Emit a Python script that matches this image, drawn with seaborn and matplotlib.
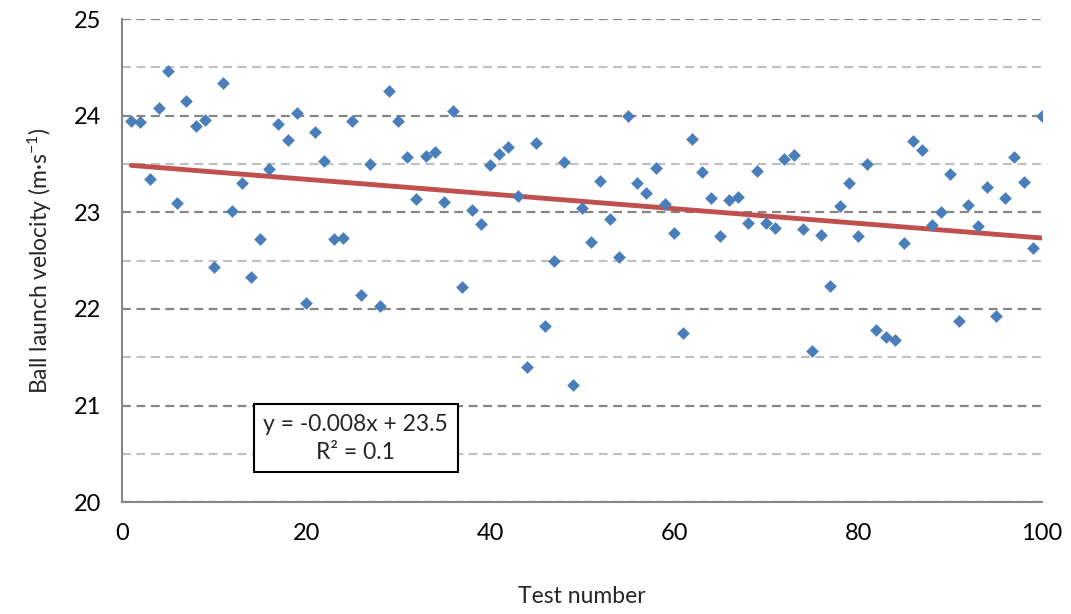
import numpy as np
import pandas as pd
import seaborn as sns
import matplotlib.pyplot as plt
from matplotlib.ticker import MultipleLocator

test_number = list(range(1, 101))
velocity = [
    23.94, 23.93, 23.34, 24.08, 24.46, 23.10, 24.15, 23.89, 23.96, 22.43,
    24.34, 23.01, 23.30, 22.33, 22.72, 23.45, 23.91, 23.75, 24.03, 22.06,
    23.83, 23.53, 22.72, 22.73, 23.94, 22.14, 23.50, 22.03, 24.26, 23.95,
    23.57, 23.14, 23.58, 23.62, 23.11, 24.05, 22.23, 23.02, 22.88, 23.49,
    23.60, 23.68, 23.17, 21.40, 23.72, 21.82, 22.50, 23.52, 21.21, 23.04,
    22.69, 23.32, 22.93, 22.54, 24.00, 23.30, 23.20, 23.46, 23.09, 22.79,
    21.75, 23.76, 23.42, 23.15, 22.75, 23.13, 23.16, 22.89, 23.43, 22.89,
    22.84, 23.55, 23.59, 22.83, 21.57, 22.77, 22.24, 23.07, 23.30, 22.75,
    23.50, 21.78, 21.71, 21.68, 22.68, 23.74, 23.65, 22.87, 23.00, 23.40,
    21.88, 23.08, 22.86, 23.26, 21.93, 23.15, 23.57, 23.31, 22.63, 24.00,
]
equation = "y = -0.008x + 23.5\nR\u00b2 = 0.1"

df = pd.DataFrame({"test": test_number, "velocity": velocity})

sns.set_style("white")
plt.rcParams["font.family"] = ["Lato", "DejaVu Sans"]
plt.rcParams["mathtext.fontset"] = "custom"
plt.rcParams["mathtext.rm"] = "Lato"
plt.rcParams["mathtext.it"] = "Lato:italic"

fig = plt.figure(figsize=(10.71, 6.14), dpi=100)
ax = fig.add_axes([0.114, 0.182, 0.859, 0.787])

sns.regplot(data=df, x="test", y="velocity", ax=ax, ci=None, marker="D",
            scatter_kws=dict(color="#4a7ebb", s=42, linewidths=0, alpha=1, zorder=3),
            line_kws=dict(color="#c0504d", lw=3.5, zorder=2))

ax.set_xlim(0, 100)
ax.set_ylim(20, 25)
ax.xaxis.set_major_locator(MultipleLocator(20))
ax.yaxis.set_major_locator(MultipleLocator(1))
ax.yaxis.set_minor_locator(MultipleLocator(0.5))

ax.grid(axis="y", which="major", color="#868686", ls=(0, (4, 2.5)), lw=1.6, zorder=0)
ax.grid(axis="y", which="minor", color="#c0c0c0", ls=(0, (4, 2.5)), lw=1.6, zorder=0)
ax.set_axisbelow(True)

for s in ["top", "right"]:
    ax.spines[s].set_visible(False)
for s in ["left", "bottom"]:
    ax.spines[s].set_color("#868686")
    ax.spines[s].set_linewidth(1.5)

ax.tick_params(axis="both", which="major", direction="out", length=6, width=1.5,
               color="#868686", labelsize=17, labelcolor="black")
ax.tick_params(axis="y", which="minor", length=0)
ax.tick_params(axis="y", pad=9)
ax.tick_params(axis="x", pad=9)

ax.set_xlabel("Test number", fontsize=16.5, labelpad=30)
ax.set_ylabel("Ball launch velocity (m\u00b7s$^{-1}$)", fontsize=16.5, labelpad=14)

ax.text(0.254, 0.132, equation, transform=ax.transAxes, ha="center", va="center",
        fontsize=16.5, linespacing=1.4, zorder=5,
        bbox=dict(boxstyle="square,pad=0.42", fc="white", ec="black", lw=1.5))

fig.savefig("out.png", dpi=100)
